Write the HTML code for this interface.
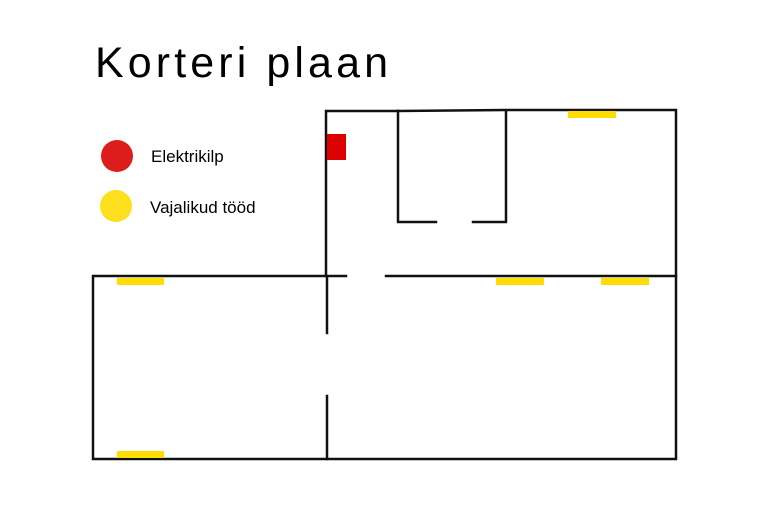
<!DOCTYPE html>
<html><head><meta charset="utf-8"><style>
html,body{margin:0;padding:0;background:#fff;}
</style></head><body>
<svg width="757" height="524" xmlns="http://www.w3.org/2000/svg" style="display:block">
<rect width="757" height="524" fill="#fff"/>
<text x="95" y="77" font-family="Liberation Sans, sans-serif" font-size="43" fill="#000" textLength="293" lengthAdjust="spacing">Korteri plaan</text>
<circle cx="117" cy="156" r="16" fill="#dd1c1c"/>
<circle cx="116" cy="206" r="16" fill="#fddf1e"/>
<text x="151" y="162" font-family="Liberation Sans, sans-serif" font-size="17" fill="#000">Elektrikilp</text>
<text x="150" y="213" font-family="Liberation Sans, sans-serif" font-size="17" fill="#000">Vajalikud tööd</text>
<g stroke="#111" stroke-width="2.5" fill="none" stroke-linecap="square">
<polyline points="326,276 326,111 398,111"/>
<polyline points="398,111 506,110 676,110 676,459 93,459 93,276 346,276"/>
<line x1="386" y1="276" x2="676" y2="276"/>
<polyline points="436,222 398,222 398,111"/>
<polyline points="473,222 506,222 506,111"/>
<line x1="327" y1="277" x2="327" y2="333"/>
<line x1="327" y1="396" x2="327" y2="459"/>
</g>
<rect x="327" y="134" width="19" height="26" fill="#dd0000"/>
<g fill="#ffdd00">
<rect x="568" y="111" width="48" height="7"/>
<rect x="496" y="278" width="48" height="7"/>
<rect x="601" y="278" width="48" height="7"/>
<rect x="117" y="278" width="47" height="7"/>
<rect x="117" y="451" width="47" height="7"/>
</g>
</svg>
</body></html>
